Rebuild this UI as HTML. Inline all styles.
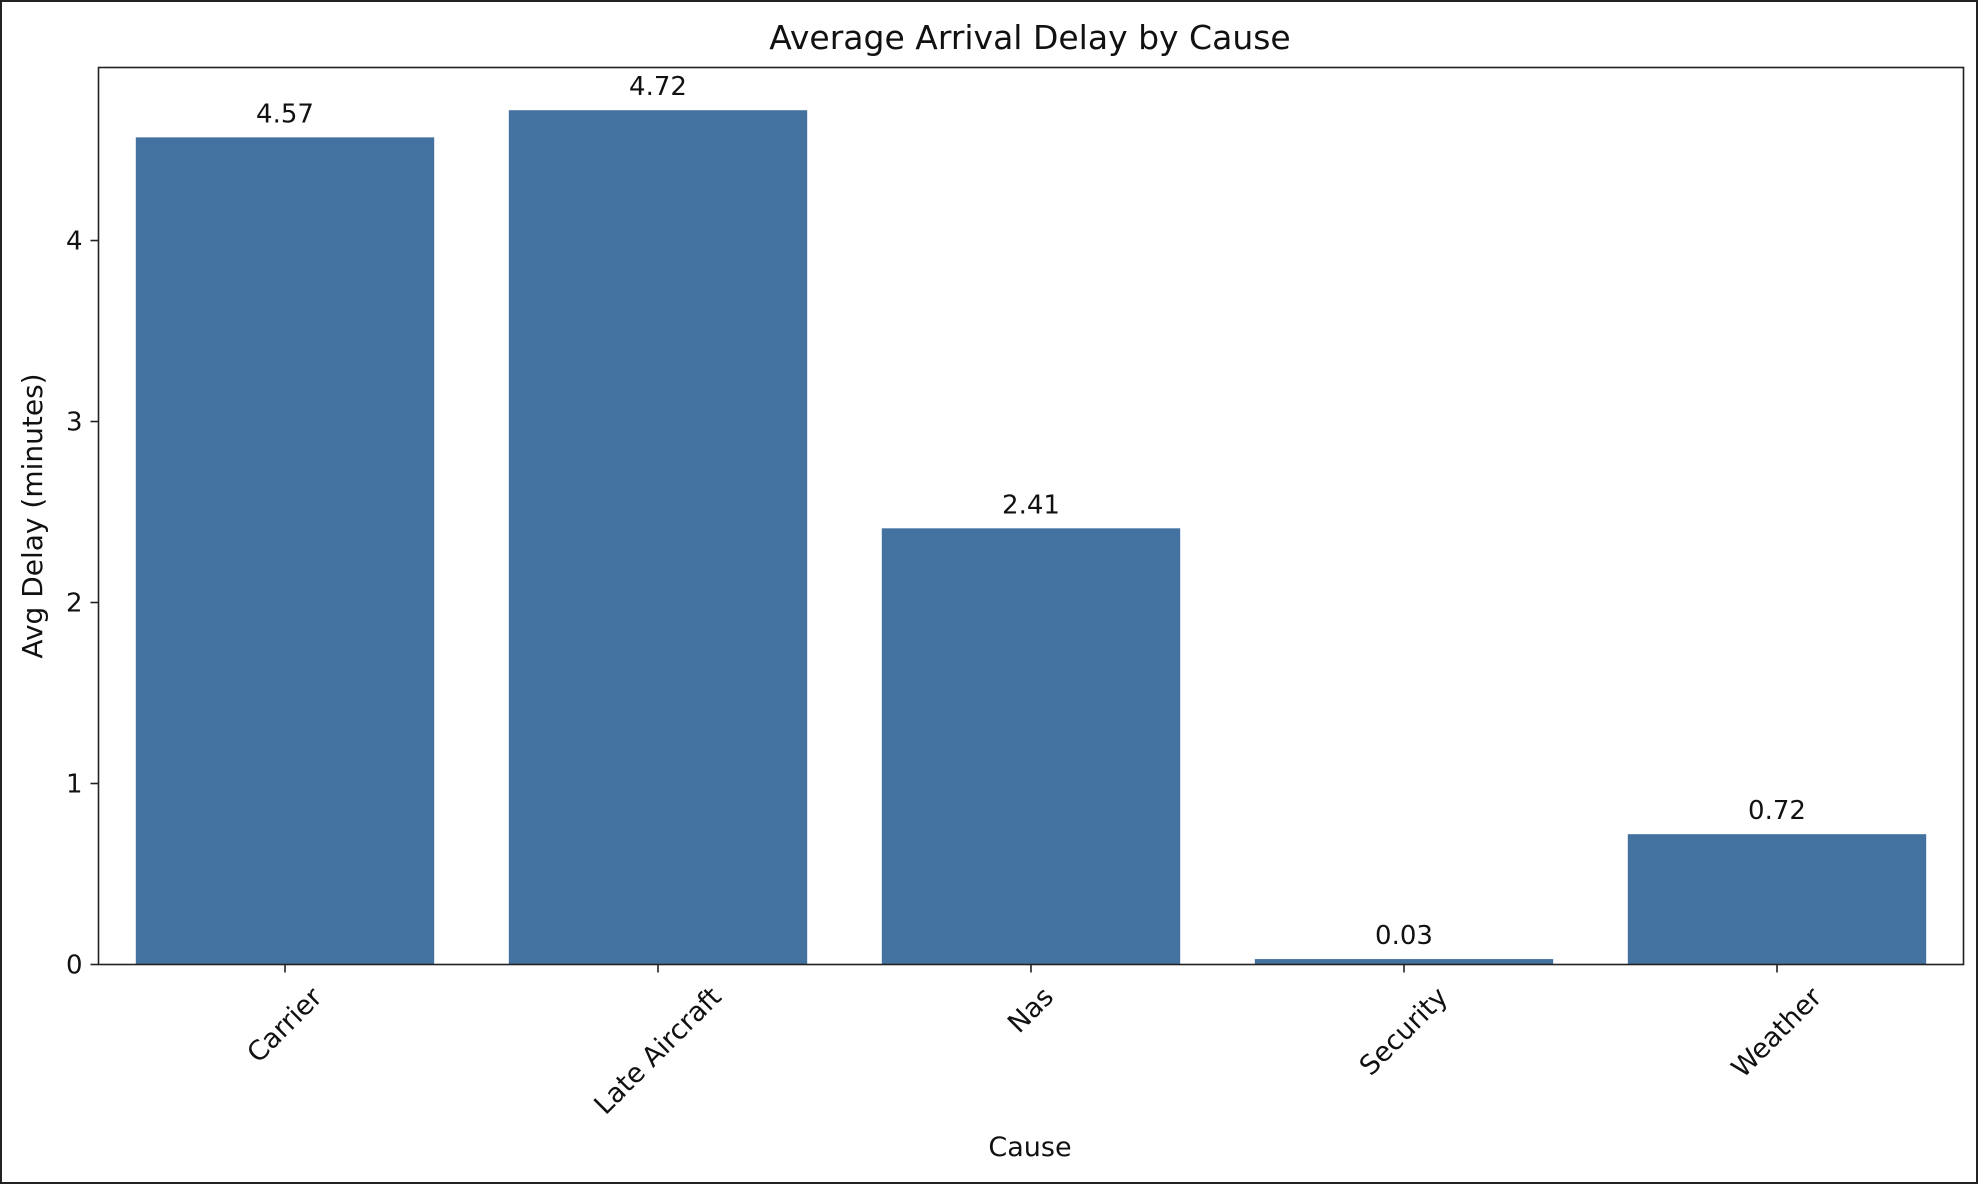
<!DOCTYPE html>
<html><head><meta charset="utf-8">
<style>
html,body{margin:0;padding:0;background:#fff;}
svg{display:block;font-family:"DejaVu Sans","Liberation Sans",sans-serif;}
</style></head>
<body>
<svg id="chart" width="1978" height="1184" viewBox="0 0 1978 1184" xmlns="http://www.w3.org/2000/svg">
<rect x="1" y="1" width="1976" height="1182" fill="#fff" stroke="#222" stroke-width="2"/>
<text x="1030" y="49" text-anchor="middle" font-size="33" fill="#111">Average Arrival Delay by Cause</text>
<g id="bars"></g>
<g id="yaxis"></g>
<g id="xaxis"></g>
<rect x="98.5" y="67.5" width="1865" height="897" fill="none" stroke="#222" stroke-width="1.6"/>
<text transform="translate(42,516) rotate(-90)" text-anchor="middle" font-size="28" fill="#111">Avg Delay (minutes)</text>
<text x="1030" y="1156" text-anchor="middle" font-size="27" fill="#111">Cause</text>
</svg>
<script>
const categories = ["Carrier","Late Aircraft","Nas","Security","Weather"];
const values = [4.57, 4.72, 2.41, 0.03, 0.72];
const valueLabels = ["4.57","4.72","2.41","0.03","0.72"];
const yTicks = [0,1,2,3,4];

const NS = "http://www.w3.org/2000/svg";
const L = 98.5, R = 1963.5, T = 67.5, B = 964.5;
const yMax = Math.max(...values) * 1.05;
function xScale(i){ return L + (i + 0.5) * (R - L) / categories.length; }
function yScale(v){ return B - v / yMax * (B - T); }
const band = (R - L) / categories.length;
function mk(tag, attrs, parent){ const e = document.createElementNS(NS, tag); for (const k in attrs) e.setAttribute(k, attrs[k]); parent.appendChild(e); return e; }

const gb = document.getElementById('bars');
const gy = document.getElementById('yaxis');
const gx = document.getElementById('xaxis');

values.forEach((v, i) => {
  const cx = xScale(i), w = band * 0.8;
  const r = mk('rect', {x: cx - w/2, y: yScale(v), width: w, height: B - yScale(v), fill: '#4472a0'}, gb);
  
  
  const t = mk('text', {x: cx, y: yScale(v) - 15, 'text-anchor': 'middle', 'font-size': '26', fill: '#111'}, gb);
  t.textContent = valueLabels[i];
  
  
});

yTicks.forEach(v => {
  const y = yScale(v);
  const ln = mk('line', {x1: L - 8, x2: L, y1: y, y2: y, stroke: '#222', 'stroke-width': 1.6}, gy);
  
  
  const t = mk('text', {x: L - 16, y: y + 9, 'text-anchor': 'end', 'font-size': '26', fill: '#111'}, gy);
  t.textContent = String(v);
  
  
});

categories.forEach((c, i) => {
  const x = xScale(i);
  const ln = mk('line', {x1: x, x2: x, y1: B, y2: B + 8, stroke: '#222', 'stroke-width': 1.6}, gx);
  
  
  const t = mk('text', {x: 0, y: 0, 'text-anchor': 'middle', 'font-size': '27', fill: '#111'}, gx);
  t.textContent = c;
  
  
  const bb = t.getBBox();
  const cy = bb.y + bb.height/2;
  const w = bb.width, h = bb.height;
  const halfH = (w + h) / (2 * Math.SQRT2);
  t.setAttribute('transform', `translate(${x},${B + 17 + halfH}) rotate(-45) translate(0,${-cy})`);
});
</script>
</body></html>
